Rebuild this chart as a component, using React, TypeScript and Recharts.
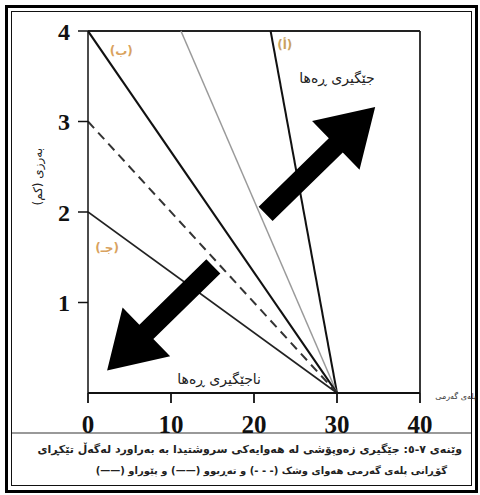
import React from 'react';
import { LineChart, Line, XAxis, YAxis, ReferenceLine, ReferenceDot, Label } from 'recharts';

// Lapse-rate lines: temperature (°C) vs altitude (km)
const lineA = [{ t: 22, h: 4 }, { t: 30, h: 0 }];      // (أ)
const lineGray = [{ t: 11.2, h: 4 }, { t: 30, h: 0 }];
const lineB = [{ t: 0, h: 4 }, { t: 30, h: 0 }];        // (ب)
const lineDry = [{ t: 0, h: 3 }, { t: 30, h: 0 }];      // dashed
const lineC = [{ t: 0, h: 2 }, { t: 30, h: 0 }];        // (جـ)

const xTicks = [0, 10, 20, 30, 40];
const yTicks = [1, 2, 3, 4];

const arrowUp = [{ x: 21.4, y: 1.98 }, { x: 34.6, y: 3.16 }];
const arrowDown = [{ x: 15.1, y: 1.4 }, { x: 2.3, y: 0.25 }];

const AR = '"DejaVu Sans", sans-serif';
const SERIF = '"Liberation Serif", "Times New Roman", serif';

function Arrow(props: any) {
  const { x1, y1, x2, y2 } = props;
  const dx = x2 - x1, dy = y2 - y1;
  const len = Math.sqrt(dx * dx + dy * dy) || 1;
  const ux = dx / len, uy = dy / len;
  const px = -uy, py = ux;
  const headLen = 55, hw = 34, sw = 10;
  const bx = x2 - ux * headLen, by = y2 - uy * headLen;
  const pts = [
    [x1 + px * sw, y1 + py * sw],
    [bx + px * sw, by + py * sw],
    [bx + px * hw, by + py * hw],
    [x2, y2],
    [bx - px * hw, by - py * hw],
    [bx - px * sw, by - py * sw],
    [x1 - px * sw, y1 - py * sw],
  ].map((p) => p.join(',')).join(' ');
  return <polygon points={pts} fill="#000" />;
}

const txt = (value: string, fill: string, size: number, extra: any = {}) => (
  <Label value={value} position="center" fill={fill} fontSize={size} fontFamily={AR} {...extra} />
);

export default function App() {
  return (
    <div style={{ position: 'absolute', left: 0, top: 0, width: 480, height: 495, background: '#fff', overflow: 'hidden' }}>
      <div style={{ position: 'absolute', left: 5, top: 5, width: 467, height: 482, border: '3px solid #000' }} />
      <div style={{ position: 'absolute', left: 11, top: 11, width: 459, height: 473, border: '1.5px solid #111' }} />
      <div style={{ position: 'absolute', left: 12, top: 432, width: 459, height: 0, borderTop: '2px solid #999' }} />
      <div style={{ position: 'absolute', left: 0, top: 0 }}>
        <LineChart width={480} height={495} margin={{ top: 31, right: 60, bottom: 62, left: 28 }}>
          <XAxis
            type="number"
            dataKey="t"
            domain={[0, 40]}
            ticks={xTicks}
            tickSize={10}
            tickMargin={12}
            stroke="#111"
            strokeWidth={1.8}
            height={40}
            tick={{ fill: '#111', fontSize: 25, fontWeight: 'bold', fontFamily: SERIF }}
            allowDataOverflow
          />
          <YAxis
            type="number"
            dataKey="h"
            domain={[0, 4]}
            ticks={yTicks}
            tickSize={10}
            tickMargin={8}
            width={60}
            stroke="#111"
            strokeWidth={1.5}
            tick={{ fill: '#111', fontSize: 24, fontWeight: 'bold', fontFamily: SERIF }}
          />
          <ReferenceLine y={4} stroke="#222" strokeWidth={1.8} />
          <ReferenceLine x={40} stroke="#222" strokeWidth={1.8} />
          <Line data={lineA} dataKey="h" stroke="#111" strokeWidth={2} dot={false} isAnimationActive={false} />
          <Line data={lineGray} dataKey="h" stroke="#9a9a9a" strokeWidth={1.5} dot={false} isAnimationActive={false} />
          <Line data={lineB} dataKey="h" stroke="#111" strokeWidth={2.2} dot={false} isAnimationActive={false} />
          <Line data={lineDry} dataKey="h" stroke="#333" strokeWidth={2} strokeDasharray="9 6" dot={false} isAnimationActive={false} />
          <Line data={lineC} dataKey="h" stroke="#222" strokeWidth={1.6} dot={false} isAnimationActive={false} />
          <ReferenceLine segment={arrowUp} shape={Arrow} ifOverflow="visible" />
          <ReferenceLine segment={arrowDown} shape={Arrow} ifOverflow="visible" />
          <ReferenceDot x={4} y={3.78} r={1} fill="none" stroke="none" ifOverflow="visible">
            {txt('(ب)', '#d9a25e', 12, { fontWeight: 'bold' })}
          </ReferenceDot>
          <ReferenceDot x={23.7} y={3.85} r={1} fill="none" stroke="none" ifOverflow="visible">
            {txt('(أ)', '#c9a25e', 12, { fontWeight: 'bold' })}
          </ReferenceDot>
          <ReferenceDot x={2.3} y={1.6} r={1} fill="none" stroke="none" ifOverflow="visible">
            {txt('(جـ)', '#d9a25e', 12, { fontWeight: 'bold' })}
          </ReferenceDot>
          <ReferenceDot x={30} y={3.48} r={1} fill="none" stroke="none" ifOverflow="visible">
            {txt('جێگیری ڕەها', '#222', 14)}
          </ReferenceDot>
          <ReferenceDot x={15.8} y={0.15} r={1} fill="none" stroke="none" ifOverflow="visible">
            {txt('ناجێگیری ڕەها', '#222', 14)}
          </ReferenceDot>
          <ReferenceDot x={-6.1} y={2.39} r={1} fill="none" stroke="none" ifOverflow="visible">
            {txt('بەرزی (کم)', '#222', 12, { angle: -90 })}
          </ReferenceDot>
          <ReferenceDot x={44.3} y={-0.04} r={1} fill="none" stroke="none" ifOverflow="visible">
            {txt('پلەی گەرمی', '#333', 8)}
          </ReferenceDot>
        </LineChart>
      </div>
      <div dir="rtl" style={{ position: 'absolute', left: 12, top: 443, width: 450, textAlign: 'right', fontFamily: AR, fontSize: 11, fontWeight: 'bold', color: '#222', whiteSpace: 'nowrap' }}>
        وێنەی ٧-٥: جێگیری زەوپۆشی لە هەوایەکی سروشتیدا بە بەراورد لەگەڵ تێکڕای
      </div>
      <div dir="rtl" style={{ position: 'absolute', left: 12, top: 465, width: 435, textAlign: 'right', fontFamily: AR, fontSize: 10, fontWeight: 'bold', color: '#222', whiteSpace: 'nowrap' }}>
        گۆڕانی پلەی گەرمی هەوای وشک (- - -) و تەڕبوو (——) و پێوراو (——)
      </div>
    </div>
  );
}
